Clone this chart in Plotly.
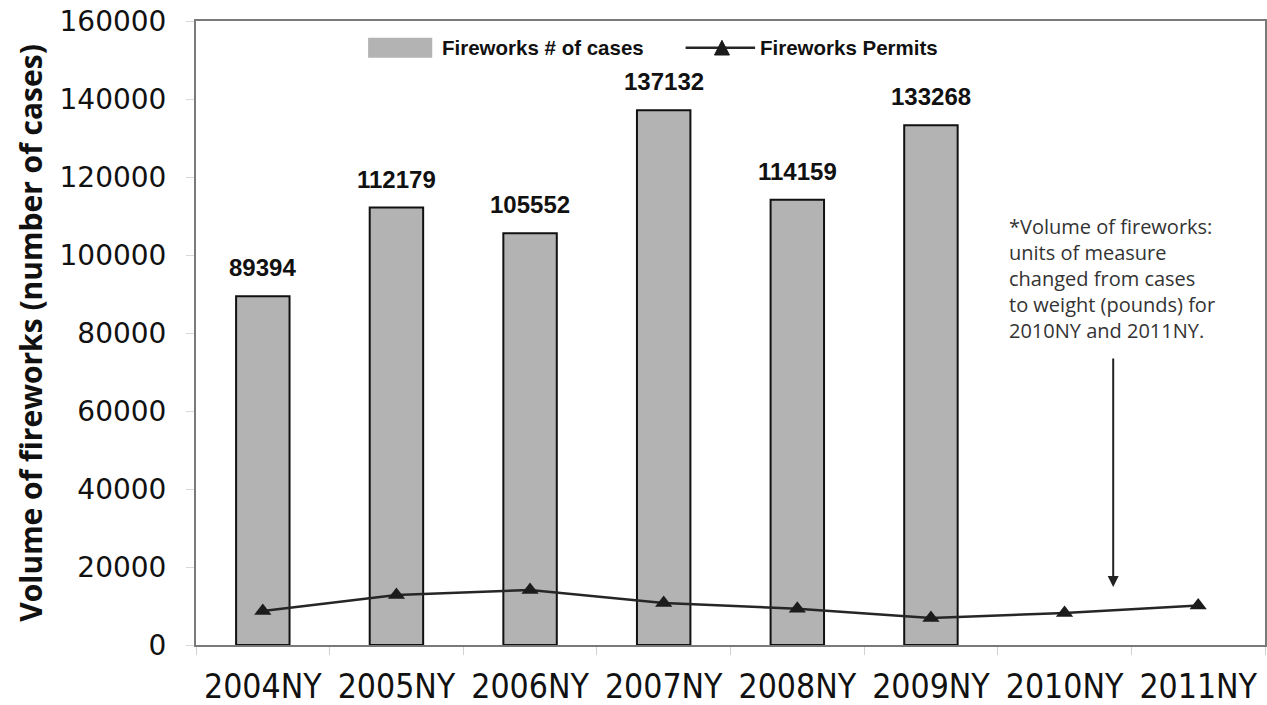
import plotly.graph_objects as go

# Fireworks volume (cases) and permits by New Year period
years = ["2004NY", "2005NY", "2006NY", "2007NY", "2008NY", "2009NY", "2010NY", "2011NY"]
cases = [89394, 112179, 105552, 137132, 114159, 133268, None, None]
permits = [8700, 12800, 14100, 10800, 9300, 6900, 8200, 10100]
y_ticks = [0, 20000, 40000, 60000, 80000, 100000, 120000, 140000, 160000]

note_text = ("*Volume of fireworks:<br>units of measure<br>changed from cases<br>"
             "to weight (pounds) for<br>2010NY and 2011NY.")

BOLD_SANS = "Liberation Sans, Arial, sans-serif"

fig = go.Figure()

fig.add_trace(go.Bar(
    x=years, y=cases, name="Fireworks # of cases",
    width=0.4,
    marker=dict(color="#b3b3b3", line=dict(color="#111111", width=2)),
    showlegend=False,
))

fig.add_trace(go.Scatter(
    x=years, y=permits, name="Fireworks Permits",
    mode="lines+markers",
    line=dict(color="#262626", width=2.5),
    marker=dict(symbol="triangle-up", size=15, color="#1c1c1c"),
    showlegend=False,
))

# value labels above each bar
annotations = []
for yr, v in zip(years, cases):
    if v is None:
        continue
    annotations.append(dict(
        x=yr, y=v, xref="x", yref="y", text=f"<b>{v}</b>",
        showarrow=False, yanchor="bottom", yshift=13,
        font=dict(family=BOLD_SANS, size=24, color="#111111"),
    ))

# explanatory note with arrow pointing to the 2010NY/2011NY gap
annotations.append(dict(
    x=0.7587, y=0.695, xref="paper", yref="paper", text=note_text,
    showarrow=False, xanchor="left", yanchor="top", align="left",
    font=dict(family="Open Sans, sans-serif", size=20, color="#333333"),
))
annotations.append(dict(
    x=0.858, y=14870, xref="paper", yref="y", text="",
    showarrow=True, arrowhead=2, arrowsize=1.1, arrowwidth=2, arrowcolor="#222222",
    ax=0, ay=-230,
))

# legend keys
annotations.append(dict(
    x=0.228, y=0.957, xref="paper", yref="paper", text="<b>Fireworks # of cases</b>",
    showarrow=False, xanchor="left", yanchor="middle",
    font=dict(family=BOLD_SANS, size=20.5, color="#111111"),
))
annotations.append(dict(
    x=0.526, y=0.957, xref="paper", yref="paper", text="<b>Fireworks Permits</b>",
    showarrow=False, xanchor="left", yanchor="middle",
    font=dict(family=BOLD_SANS, size=20.5, color="#111111"),
))

shapes = [
    dict(type="rect", xref="paper", yref="paper", x0=0.161, x1=0.221, y0=0.941, y1=0.973,
         fillcolor="#b3b3b3", line=dict(width=0)),
    dict(type="line", xref="paper", yref="paper", x0=0.458, x1=0.523, y0=0.957, y1=0.957,
         line=dict(color="#262626", width=2.5)),
    dict(type="path", xref="paper", yref="paper",
         path="M 0.485 0.9455 L 0.499 0.9455 L 0.492 0.969 Z",
         fillcolor="#1c1c1c", line=dict(color="#1c1c1c", width=1)),
]

fig.update_layout(
    width=1267, height=705,
    margin=dict(l=196, r=2, t=21, b=60),
    paper_bgcolor="white", plot_bgcolor="white",
    bargap=0.6,
    annotations=annotations,
    shapes=shapes,
    showlegend=False,
)

fig.update_xaxes(
    type="category", categoryorder="array", categoryarray=years,
    range=[-0.5, 7.5],
    automargin=False,
    showgrid=False, zeroline=False,
    showline=True, linecolor="#7a7a7a", linewidth=2, mirror=True,
    ticks="outside", ticklen=8, tickcolor="#d0d0d0", tickwidth=1,
    tickson="boundaries",
    ticklabelstandoff=11,
    tickfont=dict(family="DejaVu Sans Condensed, DejaVu Sans, sans-serif", size=33.5, color="#111111"),
)

fig.update_yaxes(
    range=[0, 160000], tickvals=y_ticks, ticktext=[str(t) for t in y_ticks],
    automargin=False,
    showgrid=False, zeroline=False,
    showline=True, linecolor="#7a7a7a", linewidth=2, mirror=True,
    ticks="outside", ticklen=8, tickcolor="#d8d8d8", tickwidth=1,
    ticklabelstandoff=14,
    tickfont=dict(family="DejaVu Sans, sans-serif", size=28, color="#111111"),
    title=dict(text="<b>Volume of fireworks (number of cases)</b>",
               font=dict(family="Open Sans, sans-serif", size=30, color="#111111"),
               standoff=8),
)

fig.write_html("out.html")
